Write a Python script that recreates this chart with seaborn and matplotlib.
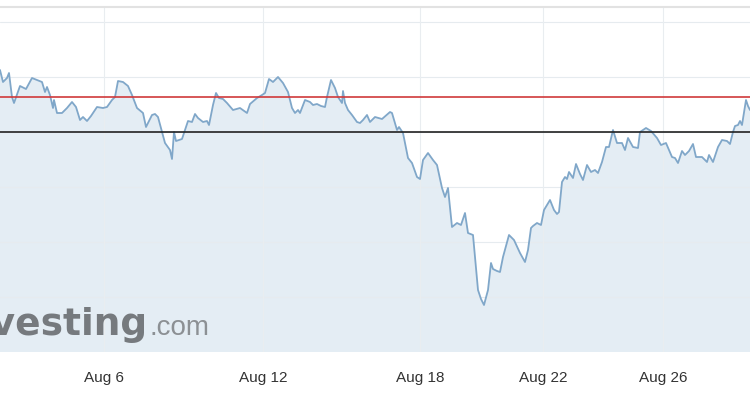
import numpy as np
import pandas as pd
import matplotlib
matplotlib.use("Agg")
import matplotlib.pyplot as plt
import seaborn as sns

# intraday series (trading hours since start, price level)
hours = [0, 1.8, 4.2, 5.4, 7.2, 8.4, 12, 15.6, 19.2, 25.2,
         27, 28.2, 30, 31.8, 32.4, 34.2, 37.2, 40.2, 43.2, 45.6,
         48, 49.8, 52.2, 54.6, 58.2, 61.8, 64.2, 67.2, 69, 70.8,
         73.8, 76.8, 79.2, 82.2, 85.8, 87.6, 88.8, 91.2, 93, 94.8,
         97.2, 99, 102, 103.2, 104.4, 105.6, 109.2, 111, 112.8, 115.2,
         117, 118.8, 121.8, 124.2, 125.4, 127.8, 129.6, 131.4, 133.8, 136.2,
         139.8, 144, 148.2, 150, 154.2, 157.2, 159, 161.4, 163.8, 166.8,
         169.8, 172.8, 175.2, 177, 178.8, 180, 183, 186, 187.8, 190.2,
         192.6, 195, 196.2, 198.6, 201, 202.8, 205.2, 205.8, 207, 208.8,
         211.2, 214.2, 216, 217.8, 220.2, 222, 225, 229.2, 234, 235.2,
         238.2, 239.4, 241.8, 244.8, 247.2, 250.2, 252, 253.8, 256.8, 259.8,
         262.2, 265.2, 267, 268.8, 271.2, 274.2, 276.6, 279, 280.8, 283.8,
         286.8, 288.6, 290.4, 292.8, 294.6, 295.8, 298.2, 300, 301.8, 305.4,
         308.4, 312, 315, 316.8, 318.6, 319.8, 322.2, 324.6, 326.4, 330,
         332.4, 334.2, 335.4, 337.2, 339, 340.2, 341.4, 343.8, 345.6, 348,
         349.8, 352.2, 354.6, 357, 358.8, 361.2, 363.6, 365.4, 367.8, 370.2,
         373.2, 375, 376.8, 379.8, 382.8, 384, 387.6, 390.6, 394.2, 396.6,
         399.6, 403.2, 405, 406.8, 409.2, 411, 413.4, 415.8, 417.6, 421.2,
         424.2, 425.4, 427.8, 430.8, 433.2, 436.2, 438, 439.8, 441, 442.8,
         444, 445.2, 447.6, 448.8, 450]
level = [282, 270, 274, 279, 255, 249, 266, 263, 274, 270,
         260, 265, 257, 244, 252, 239, 239, 244, 250, 245,
         232, 235, 231, 236, 245, 244, 245, 252, 255, 271,
         270, 266, 257, 244, 239, 225, 229, 237, 238, 235,
         220, 209, 202, 193, 220, 211, 213, 222, 231, 230,
         238, 234, 230, 231, 227, 247, 259, 254, 253, 249,
         242, 244, 239, 248, 254, 257, 259, 273, 270, 275,
         269, 260, 244, 239, 242, 239, 252, 250, 247, 248,
         246, 245, 255, 272, 264, 255, 249, 261, 249, 242,
         237, 230, 229, 232, 237, 230, 235, 233, 240, 239,
         222, 225, 219, 194, 189, 175, 173, 192, 199, 192,
         187, 164, 155, 164, 125, 129, 127, 139, 119, 117,
         62, 53, 47, 62, 89, 83, 81, 80, 95, 117,
         112, 99, 90, 102, 124, 126, 129, 127, 142, 152,
         142, 138, 140, 170, 175, 173, 180, 174, 188, 178,
         172, 187, 180, 182, 179, 190, 205, 205, 222, 209,
         209, 202, 214, 205, 204, 220, 224, 221, 214, 207,
         209, 195, 194, 189, 201, 197, 201, 208, 195, 195,
         190, 197, 190, 205, 212, 211, 208, 220, 226, 227,
         231, 227, 252, 246, 242]

tick_hours = [62.4, 157.8, 252, 325.8, 397.8]
tick_labels = ["Aug 6", "Aug 12", "Aug 18", "Aug 22", "Aug 26"]
grid_levels = [55, 110, 165, 220, 275, 330]
red_level = 255
black_level = 220

df = pd.DataFrame({"hours": hours, "level": level})

sns.set_style("white")
plt.rcParams["font.family"] = ["Liberation Sans", "DejaVu Sans"]

fig = plt.figure(figsize=(7.5, 3.96), dpi=100)
ax = fig.add_axes([0, 44 / 396, 1, 345 / 396])

ax.fill_between(df["hours"], df["level"], 0, color="#e4edf4", lw=0, zorder=1)
for g in grid_levels:
    ax.axhline(g, color="#e6ebef", lw=0.8, zorder=1.5)
for t in tick_hours:
    ax.axvline(t, color="#e9edf0", lw=0.8, zorder=1.5)
sns.lineplot(data=df, x="hours", y="level", ax=ax, color="#80a7c9", lw=1.3, zorder=3)
ax.axhline(red_level, color="#d0393b", lw=1.2, zorder=4)
ax.axhline(black_level, color="#222222", lw=1.2, zorder=4)

ax.set_xlim(0, 450)
ax.set_ylim(0, 345)
ax.set_xticks(tick_hours)
ax.set_xticklabels(tick_labels, fontsize=11, color="#333333")
ax.set_yticks([])
ax.tick_params(axis="x", length=0, pad=14)
ax.set_xlabel("")
ax.set_ylabel("")
for side in ["left", "right", "bottom"]:
    ax.spines[side].set_visible(False)
ax.spines["top"].set_color("#e2e2e2")
ax.spines["top"].set_linewidth(1.5)

# watermark (cut at the left edge, as in the source screenshot)
ax.text(148 / 750, 0.049, "Investing", transform=ax.transAxes, ha="right", va="baseline",
        fontsize=27, fontweight="bold", color="#767a7e", family="DejaVu Sans", zorder=5)
ax.text(150 / 750, 0.049, ".com", transform=ax.transAxes, ha="left", va="baseline",
        fontsize=20, color="#8c9094", zorder=5)

fig.savefig("out.png", dpi=100)
